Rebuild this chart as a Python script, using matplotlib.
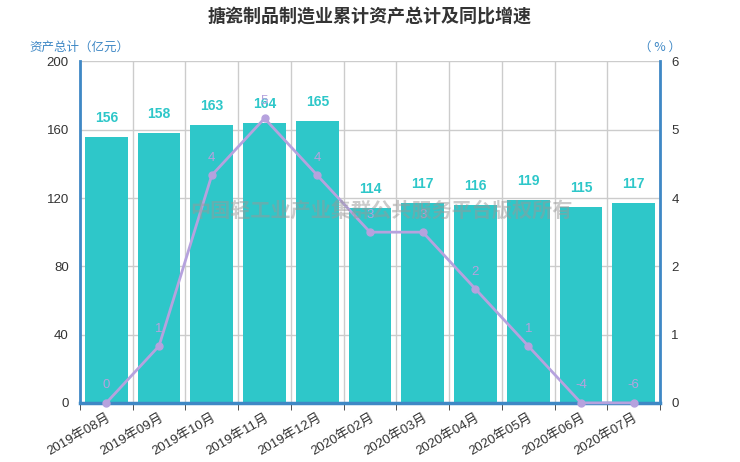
import matplotlib
matplotlib.use("Agg")
import matplotlib.pyplot as plt
import numpy as np

plt.rcParams['font.family'] = ['Liberation Sans', 'Noto Sans CJK SC', 'DejaVu Sans']

months = ["2019年08月", "2019年09月", "2019年10月", "2019年11月", "2019年12月",
          "2020年02月", "2020年03月", "2020年04月", "2020年05月", "2020年06月", "2020年07月"]
assets = [156, 158, 163, 164, 165, 114, 117, 116, 119, 115, 117]
growth = [0, 1, 4, 5, 4, 3, 3, 2, 1, -4, -6]

bar_color = "#2EC7C9"
line_color = "#B6A2DE"
axis_color = "#3F88C5"
cjk = ['Noto Sans CJK SC', 'DejaVu Sans']

fig = plt.figure(figsize=(7.4, 4.62), dpi=100)
ax = fig.add_axes([0.108, 0.128, 0.784, 0.739])
x = np.arange(len(months))

ax.bar(x, assets, width=0.81, color=bar_color, zorder=2)
for xi, v in zip(x, assets):
    ax.text(xi, v + 7, str(v), ha="center", va="bottom", color=bar_color,
            fontsize=10, fontweight="bold", zorder=5)

ax.set_xlim(-0.5, len(months) - 0.5)
ax.set_ylim(0, 200)
ax.set_yticks(np.arange(0, 201, 40))
ax.set_xticks(x)
ax.set_xticklabels(months, rotation=30, ha="right", rotation_mode="anchor",
                   fontsize=9.5, color="#333333")
ax.tick_params(axis="x", length=0, pad=6)
ax.set_xticks(np.arange(-0.5, len(months), 1), minor=True)
ax.tick_params(axis="x", which="minor", length=5, color="#333333")
ax.tick_params(axis="y", length=0, labelsize=9.5, labelcolor="#333333", pad=8)
ax.grid(True, which="minor", axis="x", color="#cccccc", linewidth=1, zorder=0)
ax.grid(True, which="major", axis="y", color="#cccccc", linewidth=1, zorder=0)
ax.set_axisbelow(True)
for s in ["top", "right"]:
    ax.spines[s].set_visible(False)
ax.spines["left"].set_color(axis_color)
ax.spines["left"].set_linewidth(2)
ax.spines["bottom"].set_color(axis_color)
ax.spines["bottom"].set_linewidth(2.5)

ax2 = ax.twinx()
ax2.set_ylim(0, 6)
rticks = np.linspace(0, 6, 6)
ax2.set_yticks(rticks)
ax2.set_yticklabels([str(int(round(t))) for t in rticks])
ax2.tick_params(axis="y", length=0, labelsize=9.5, labelcolor="#333333", pad=8)
for s in ["top", "left", "bottom"]:
    ax2.spines[s].set_visible(False)
ax2.spines["right"].set_color(axis_color)
ax2.spines["right"].set_linewidth(2)

shown = np.clip(growth, 0, None)
ax2.plot(x, shown, color=line_color, linewidth=2, marker="o", markersize=5,
         clip_on=False, zorder=4)
for xi, yi, v in zip(x, shown, growth):
    ax2.text(xi, yi + 0.2, str(v), ha="center", va="bottom", color=line_color,
             fontsize=9.5, zorder=5)

fig.text(0.5, 0.965, "搪瓷制品制造业累计资产总计及同比增速", ha="center", va="center",
         fontsize=13, fontweight="bold", color="#333333", family=cjk)
fig.text(0.04, 0.897, "资产总计（亿元）", ha="left", va="center", fontsize=9,
         color=axis_color, family=cjk)
fig.text(0.92, 0.897, "（ % ）", ha="right", va="center", fontsize=9,
         color=axis_color, family=cjk)
fig.text(0.515, 0.545, "中国轻工业产业集群公共服务平台版权所有", ha="center", va="center",
         fontsize=14.5, fontweight="bold", color="#999999", alpha=0.5, zorder=10,
         family=cjk)

fig.savefig("out.png", dpi=100)
